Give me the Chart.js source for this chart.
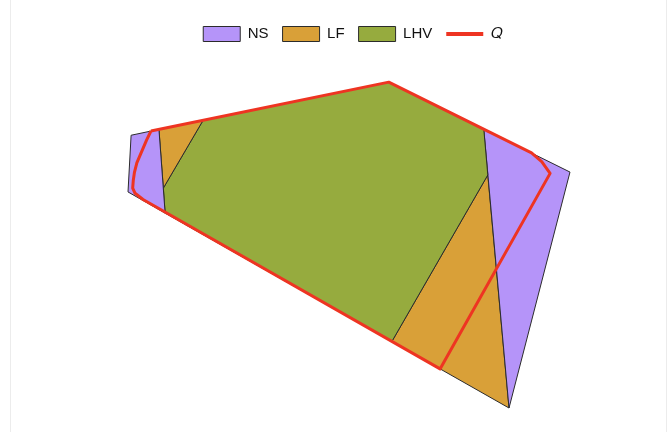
<!DOCTYPE html>
<html>
<head>
<meta charset="utf-8">
<script src="https://cdn.jsdelivr.net/npm/chart.js@4.4.1/dist/chart.umd.min.js"></script>
<style>
  html, body { margin: 0; padding: 0; background: #fff; }
  #wrap { position: relative; width: 670px; height: 434px; }
  #frame {
    position: absolute; left: 10px; top: 0; width: 655px; height: 432px;
    border-left: 1px solid #ececec; border-right: 1px solid #ececec;
  }
  canvas { position: absolute; left: 0; top: 0; }
</style>
</head>
<body>
<div id="wrap">
  <div id="frame"></div>
  <canvas id="chart" width="670" height="434"></canvas>
</div>
<script>
// Region vertices, diagram units (x 0-100, y 0-100)
const nsLeft = [[0.7, 83.7], [7.0, 85.5], [8.4, 59.8], [0, 66.3]];
const nsRight = [[80.5, 85.5], [100, 72.4], [86.2, 0]];
const lfLeft = [[7.0, 85.5], [17.0, 88.3], [8.0, 67.5]];
const lfRight = [[81.4, 71.5], [86.2, 0], [59.7, 20.4]];
const lhv = [[17.0, 88.3], [59.0, 100], [80.5, 85.5], [81.4, 71.5], [59.7, 20.4], [8.4, 59.8], [8.0, 67.5]];

// Q boundary curve
const qCurve = [
    [5.2, 85.0], [59.0, 100], [91.3, 78.3], [93.6, 75.6], [95.5, 72.0], [70.6, 12.0],
    [3.4, 64.0], [1.6, 65.9], [1.06, 67.5], [1.2, 69.9], [1.47, 72.4],
    [2.0, 75.2], [4.2, 82.2], [5.2, 85.0]
];

const seriesNames = ['NS', 'LF', 'LHV', '\u{1D444}'];

const colors = {
    NS: '#b594f9',
    LF: '#d9a038',
    LHV: '#96ab3e',
    Q: '#ee3422',
    edge: '#2b2b2b'
};

// close a polygon and turn pairs into points
function toPoints(pts, close) {
    const out = pts.map(([x, y]) => ({ x: x, y: y }));
    if (close) out.push({ x: pts[0][0], y: pts[0][1] });
    return out;
}

function region(label, pts, color, inLegend) {
    return {
        label: label,
        data: toPoints(pts, true),
        showLine: true,
        fill: 'shape',
        backgroundColor: color,
        borderColor: colors.edge,
        borderWidth: 1,
        pointRadius: 0,
        pointHoverRadius: 0,
        pointStyle: 'rect',
        tension: 0,
        clip: false,
        inLegend: inLegend
    };
}

const datasets = [
    region(seriesNames[0], nsLeft, colors.NS, true),
    region(seriesNames[1], lfLeft, colors.LF, true),
    region(seriesNames[2], lhv, colors.LHV, true),
    region(seriesNames[0], nsRight, colors.NS, false),
    region(seriesNames[1], lfRight, colors.LF, false),
    {
        label: seriesNames[3],
        data: toPoints(qCurve, false),
        showLine: true,
        fill: false,
        borderColor: colors.Q,
        backgroundColor: colors.Q,
        borderWidth: 3,
        borderJoinStyle: 'round',
        pointRadius: 0,
        pointHoverRadius: 0,
        pointStyle: 'line',
        tension: 0,
        clip: false,
        order: -1,
        inLegend: true
    }
];

const defaultLabels = Chart.defaults.plugins.legend.labels.generateLabels;

new Chart(document.getElementById('chart'), {
    type: 'scatter',
    data: { datasets: datasets },
    options: {
        responsive: false,
        animation: false,
        events: [],
        layout: { padding: { left: 120, right: 84, top: 12.5, bottom: 26 } },
        scales: {
            x: { type: 'linear', min: -1.81, max: 103.62, display: false },
            y: { type: 'linear', min: 0, max: 109.4, display: false }
        },
        plugins: {
            tooltip: { enabled: false },
            legend: {
                position: 'top',
                labels: {
                    usePointStyle: true,
                    pointStyleWidth: 37,
                    boxHeight: 15,
                    padding: 14,
                    color: '#111',
                    font: { family: '"Liberation Sans", Arial, sans-serif', size: 15 },
                    filter: (item, data) => data.datasets[item.datasetIndex].inLegend,
                    sort: (a, b) => a.datasetIndex - b.datasetIndex,
                    generateLabels: function(chart) {
                        const items = defaultLabels(chart);
                        items.forEach(it => {
                            if (it.pointStyle === 'line') it.lineWidth = 4;
                        });
                        return items;
                    }
                }
            }
        }
    }
});
</script>
</body>
</html>
